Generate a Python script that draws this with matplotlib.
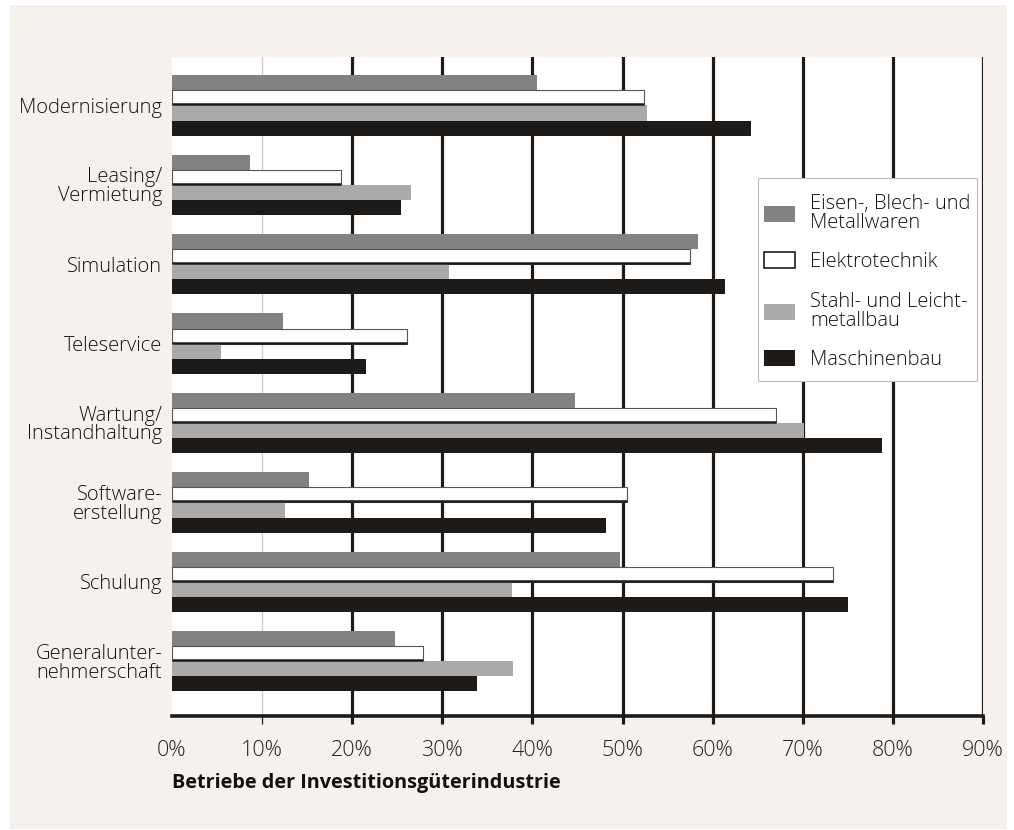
import numpy as np
import matplotlib.pyplot as plt
from matplotlib.patches import Rectangle, Patch

plt.rcParams['font.family'] = ['Open Sans', 'DejaVu Sans']
plt.rcParams['font.weight'] = 'light'

categories = ['Modernisierung', 'Leasing/\nVermietung', 'Simulation', 'Teleservice',
              'Wartung/\nInstandhaltung', 'Software-\nerstellung', 'Schulung',
              'Generalunter-\nnehmerschaft']
series_names = ['Eisen-, Blech- und\nMetallwaren', 'Elektrotechnik',
                'Stahl- und Leicht-\nmetallbau', 'Maschinenbau']
eisen = [40.5, 8.7, 58.4, 12.3, 44.7, 15.2, 49.7, 24.7]
elektro = [52.4, 18.8, 57.5, 26.1, 67.0, 50.5, 73.4, 27.9]
stahl = [52.7, 26.5, 30.7, 5.4, 70.1, 12.5, 37.7, 37.8]
maschinen = [64.2, 25.4, 61.4, 21.5, 78.8, 48.2, 75.0, 33.8]
xticks = [0, 10, 20, 30, 40, 50, 60, 70, 80, 90]

bg = '#f5f2ee'
dark = '#1e1a18'
W, H = 1014, 830

fig = plt.figure(figsize=(10.14, 8.3), dpi=100)
fig.patch.set_facecolor('white')
fig.patches.append(Rectangle((10 / W, 1 - 829 / H), 997 / W, 824 / H,
                             transform=fig.transFigure, facecolor=bg,
                             edgecolor='none', zorder=-10))
ax = fig.add_axes([172 / W, 1 - 716 / H, 811 / W, 659 / H])
ax.set_facecolor('white')

y = np.arange(len(categories))
h = 0.19

# gridlines behind bars
for t in xticks[1:]:
    if t == 10:
        ax.axvline(t, color='#c8c8c8', lw=0.9, zorder=0)
    else:
        ax.axvline(t, color=dark, lw=2.3, zorder=0)

ax.barh(y - 1.5 * h, eisen, height=h, color='#828282', zorder=2)
ax.barh(y - 0.5 * h, elektro, height=h, color='white', edgecolor='#555555',
        lw=0.8, zorder=2)
ax.hlines(y - 0.5 * h + h / 2 - 0.012, 0, elektro, color=dark, lw=1.8, zorder=3)
ax.barh(y + 0.5 * h, stahl, height=h, color='#aaaaaa', zorder=2)
ax.barh(y + 1.5 * h, maschinen, height=h, color=dark, zorder=2)

ax.set_xlim(0, 90)
ax.set_ylim(len(categories) - 1 + 0.69, -0.61)
ax.set_xticks(xticks)
ax.set_xticklabels([f'{t}%' for t in xticks], fontsize=15.5, color='#222222')
ax.set_yticks(y)
ax.set_yticklabels(categories, fontsize=14.5, color='#111111', linespacing=0.92)
ax.tick_params(axis='y', length=0, pad=7)
ax.tick_params(axis='x', length=6, width=2.3, color=dark, pad=11)
for s in ['top', 'left', 'right']:
    ax.spines[s].set_visible(False)
ax.spines['bottom'].set_linewidth(2.6)
ax.spines['bottom'].set_color(dark)
ax.get_xticklines()[0].set_visible(False)
ax.get_xticklines()[2].set_color('#c8c8c8')
ax.get_xticklines()[2].set_markeredgewidth(0.9)

fig.text(172 / W, 1 - 783 / H, 'Betriebe der Investitionsgüterindustrie',
         fontsize=14.3, fontweight='bold', va='center', ha='left', color='#111111')

# legend frame drawn separately so the padding can differ left/top
ax.add_patch(Rectangle((758 / W, 1 - 381 / H), 219 / W, 203 / H,
                       transform=fig.transFigure, facecolor='white',
                       edgecolor='#bbbbbb', lw=0.8, clip_on=False, zorder=4))
handles = [Patch(facecolor='#828282', edgecolor='none'),
           Patch(facecolor='white', edgecolor=dark, lw=1.2),
           Patch(facecolor='#aaaaaa', edgecolor='none'),
           Patch(facecolor=dark, edgecolor='none')]
leg = ax.legend(handles, series_names, loc='upper left',
                bbox_to_anchor=(764 / W, 1 - 194 / H),
                bbox_transform=fig.transFigure,
                fontsize=14.5, frameon=False,
                handlelength=1.55, handleheight=0.85, handletextpad=0.75,
                labelspacing=0.97, borderpad=0, borderaxespad=0)
leg.set_zorder(5)
for t in leg.get_texts():
    t.set_linespacing(0.92)
    t.set_color('#111111')

fig.savefig('out.png', dpi=100, facecolor=fig.get_facecolor())
